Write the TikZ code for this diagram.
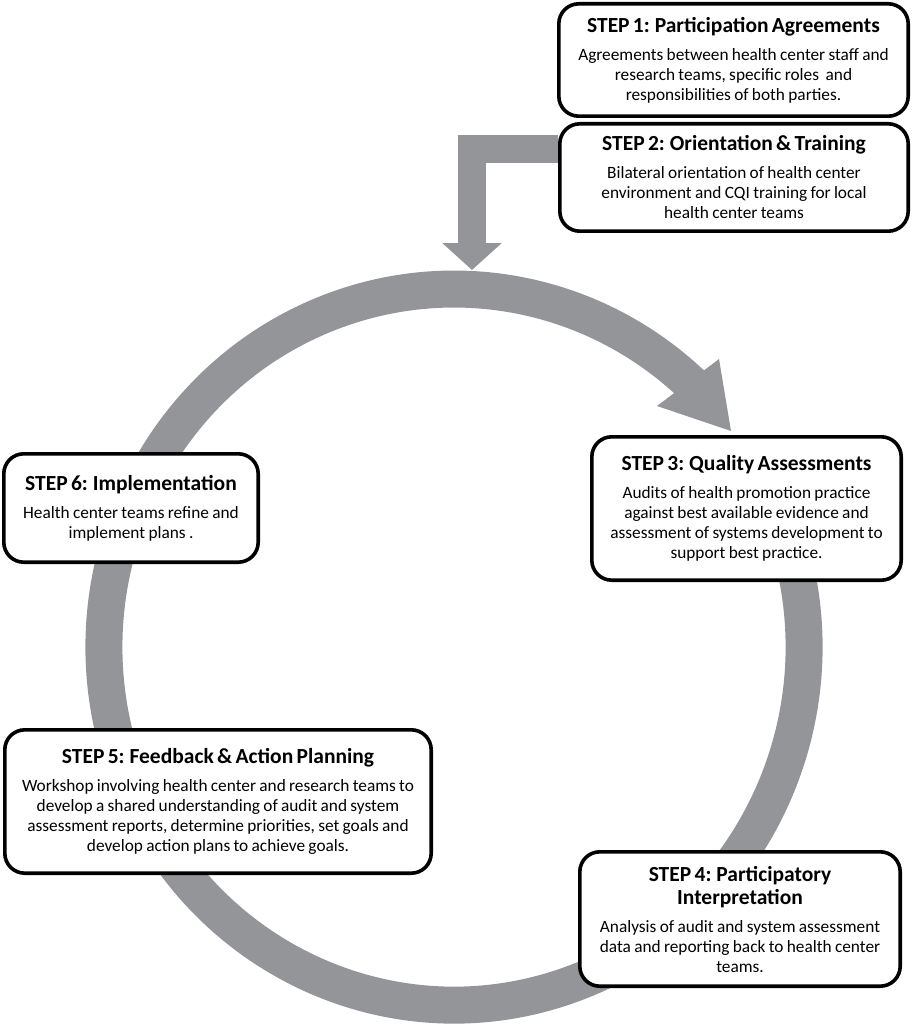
\documentclass[tikz,border=0pt]{standalone}
\usepackage{fontspec}
\setmainfont{Carlito}
\usetikzlibrary{arrows.meta,backgrounds}
\definecolor{ringgray}{RGB}{147,149,152}
\newcommand\ttlfont{\fontsize{21.5}{23}\selectfont\bfseries}
\newcommand\bodyfont{\fontsize{17.3}{20}\selectfont}
\newcommand\ttlgap{\vspace{8pt}}
\begin{document}
\begin{tikzpicture}[x=1pt,y=-1pt,
  stepbox/.style={draw=black, line width=3.6pt, rounded corners=20pt, fill=white, align=center, inner sep=0pt},
  ringline/.style={draw=ringgray, line width=37pt},
  feedline/.style={draw=ringgray, line width=28pt, miter limit=10, -{Triangle[width=58pt,length=27pt]}}
]
\useasboundingbox (0,0) rectangle (914,1024);

\node[stepbox, minimum width=349.4pt, minimum height=112.4pt, text width=340pt] (s1) at (733.5,60)
 {{\ttlfont STEP 1: Participation Agreements\par}\ttlgap{\bodyfont Agreements between health center staff and\\ research teams, specific roles\ \ and\\ responsibilities of both parties.\par}};

\node[stepbox, minimum width=348.4pt, minimum height=107.4pt, text width=340pt] (s2) at (734,177.5)
 {{\ttlfont STEP 2: Orientation \& Training\par}\ttlgap{\bodyfont Bilateral orientation of health center\\ environment and CQI training for local\\ health center teams\par}};

\node[stepbox, minimum width=309.4pt, minimum height=143.4pt, text width=300pt] (s3) at (746.5,508.5)
 {{\ttlfont STEP 3: Quality Assessments\par}\ttlgap{\bodyfont Audits of health promotion practice\\ against best available evidence and\\ assessment of systems development to\\ support best practice.\par}};

\node[stepbox, minimum width=320.4pt, minimum height=134.4pt, text width=312pt] (s4) at (740,919)
 {{\ttlfont STEP 4: Participatory\\ Interpretation\par}\ttlgap{\bodyfont Analysis of audit and system assessment\\ data and reporting back to health center\\ teams.\par}};

\node[stepbox, minimum width=426.4pt, minimum height=143.4pt, text width=418pt] (s5) at (218,801.5)
 {{\ttlfont STEP 5: Feedback \& Action Planning\par}\ttlgap{\bodyfont Workshop involving health center and research teams to\\ develop a shared understanding of audit and system\\ assessment reports, determine priorities, set goals and\\ develop action plans to achieve goals.\par}};

\node[stepbox, minimum width=254.4pt, minimum height=108.4pt, text width=246pt] (s6) at (131,508)
 {{\ttlfont STEP 6: Implementation\par}\ttlgap{\bodyfont Health center teams refine and\\ implement plans .\par}};

\coordinate (ringstart) at (782.9,524.6);
\coordinate (elbow) at (472,149);
\coordinate (ringtop) at (472,270);
\coordinate (wingA) at (657,406);
\coordinate (wingB) at (719,359);
\coordinate (ringtip) at (731,431);

\begin{scope}[on background layer]
  \draw[ringline] (ringstart) arc[start angle=-20, end angle=314, x radius=350, y radius=358];
  \fill[ringgray] (wingA) -- (ringtip) -- (wingB) -- cycle;
  \draw[feedline] (s2.west |- elbow) -| (ringtop);
\end{scope}
\end{tikzpicture}
\end{document}
